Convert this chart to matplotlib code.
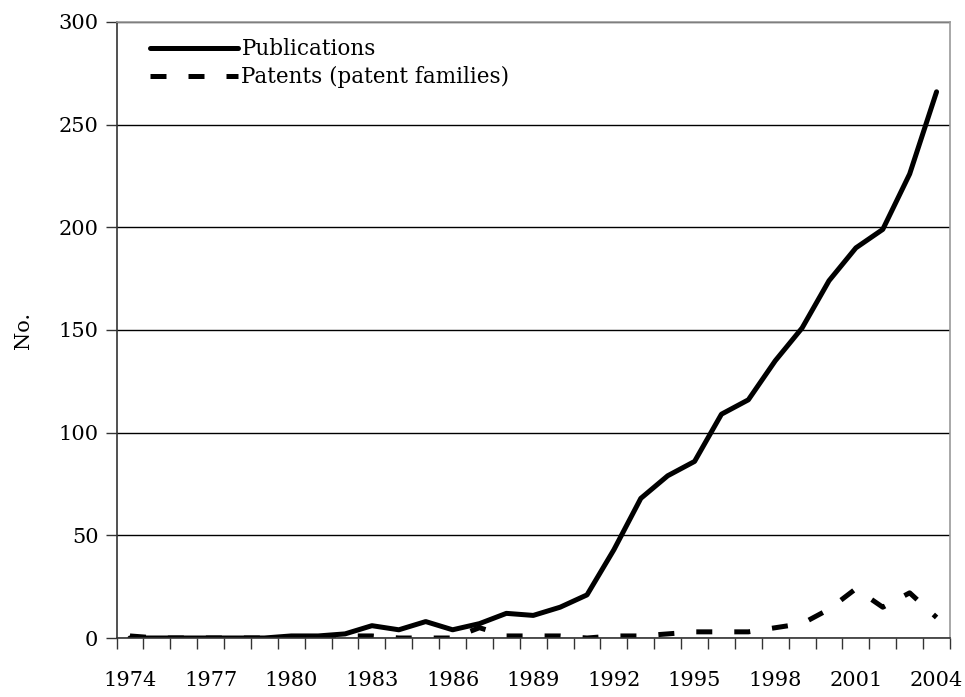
import numpy as np
import matplotlib
matplotlib.use("Agg")
import matplotlib.pyplot as plt
from matplotlib.ticker import MultipleLocator, FixedLocator

plt.rcParams['font.family'] = ['DejaVu Serif']

years = list(range(1974, 2005))
publications = [0, 0, 0, 0, 0, 0, 1, 1, 2, 6, 4, 8, 4, 7, 12, 11, 15, 21, 43,
                68, 79, 86, 109, 116, 135, 151, 174, 190, 199, 226, 266]
patents = [1, 0, 0, 0, 0, 0, 0, 0, 1, 1, 0, 0, 0, 5, 1, 1, 1, 0, 1,
           1, 2, 3, 3, 3, 5, 7, 14, 24, 15, 22, 10]
tick_years = list(range(1974, 2005, 3))

fig = plt.figure(figsize=(9.65, 6.97), dpi=100)
ax = fig.add_axes([116.5 / 965, 59 / 697, (950 - 116.5) / 965, (638 - 22) / 697])

x = np.arange(len(years))
ax.plot(x, publications, color='black', lw=3.6, solid_capstyle='round',
        solid_joinstyle='round', label='Publications')
ax.plot(x, patents, color='black', lw=3.6, linestyle=(0, (3.2, 4.4)),
        dash_capstyle='butt', label='Patents (patent families)')

ax.set_xlim(-0.5, len(years) - 0.5)
ax.set_ylim(0, 300)

# category labels at centres, tick marks on category boundaries
ax.set_xticks([years.index(y) for y in tick_years])
ax.set_xticklabels([str(y) for y in tick_years])
ax.xaxis.set_minor_locator(FixedLocator(np.arange(-0.5, len(years), 1)))
ax.tick_params(axis='x', which='major', length=0, pad=24, labelsize=15)
ax.tick_params(axis='x', which='minor', length=8, width=1, color='#333333')

ax.yaxis.set_major_locator(MultipleLocator(50))
ax.tick_params(axis='y', length=8, width=1, color='#333333', pad=5, labelsize=15)
ax.grid(axis='y', color='black', lw=1)
ax.set_axisbelow(True)

ax.spines['left'].set_color('#333333')
ax.spines['bottom'].set_color('#333333')
ax.spines['top'].set_color('#999999')
ax.spines['right'].set_color('#999999')
for s in ax.spines.values():
    s.set_linewidth(1.2)

ax.set_ylabel('No.', fontsize=15, labelpad=18)

leg = ax.legend(loc='upper left', frameon=False, fontsize=15.5, handlelength=4.1,
                handletextpad=0.15, borderaxespad=0.3, labelspacing=0.28,
                bbox_to_anchor=(0.022, 0.998))

fig.savefig('out.png', dpi=100, facecolor='white')
